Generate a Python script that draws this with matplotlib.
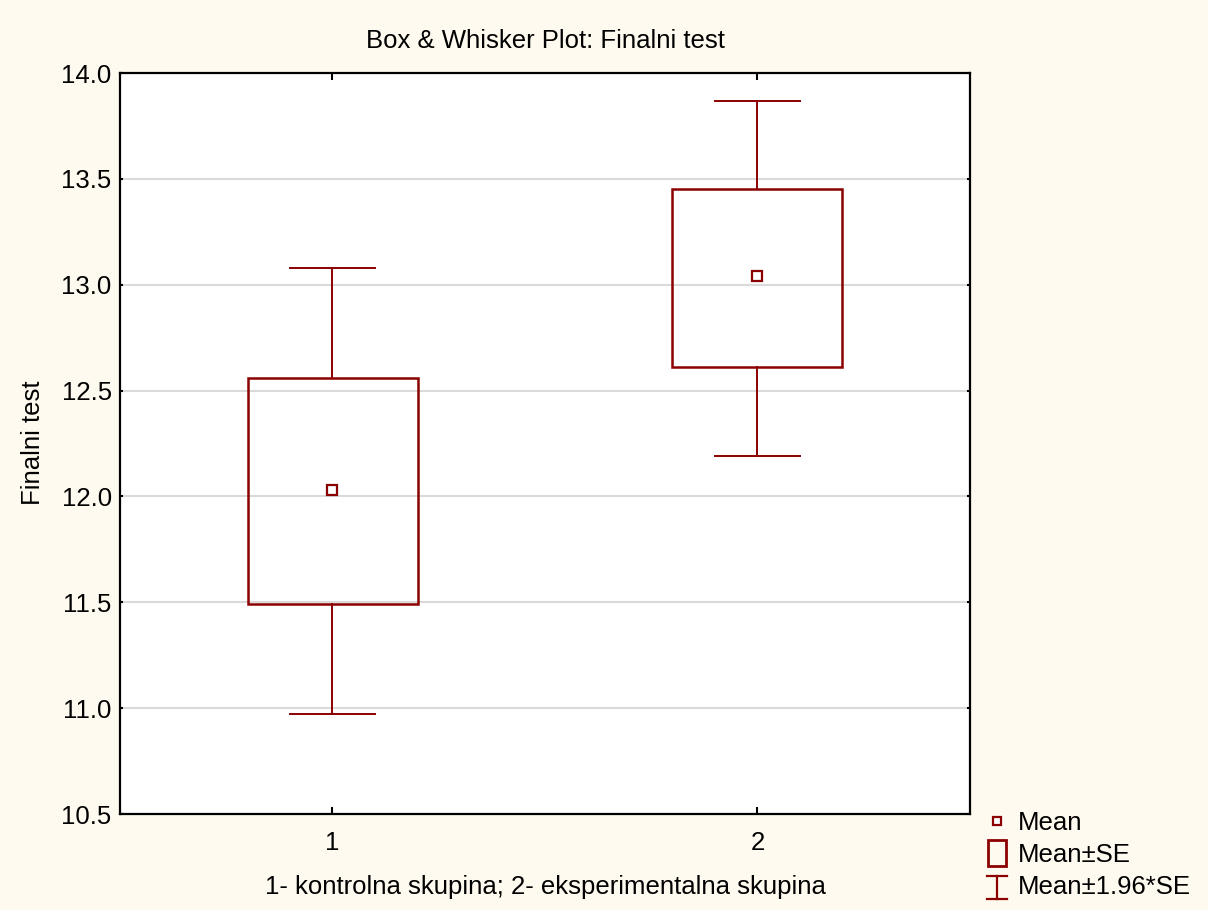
import matplotlib
matplotlib.use("Agg")
import matplotlib.pyplot as plt
from matplotlib.patches import Rectangle
from matplotlib.lines import Line2D

plt.rcParams['font.family'] = ['Liberation Sans', 'DejaVu Sans']

groups = [1, 2]
group_labels = ["1", "2"]
means = [12.03, 13.04]
se_low = [11.49, 12.61]
se_high = [12.56, 13.45]
ci_low = [10.97, 12.19]
ci_high = [13.08, 13.87]

title = "Box & Whisker Plot: Finalni test"
ylabel = "Finalni test"
xlabel = "1- kontrolna skupina; 2- eksperimentalna skupina"
legend_labels = ["Mean", "Mean±SE", "Mean±1.96*SE"]

RED = "#8B0000"
BG = "#FFFAEF"
FS = 18.5

fig = plt.figure(figsize=(12.08, 9.10), dpi=100, facecolor=BG)
ax = fig.add_axes([120/1208, 1-814/910, 850/1208, 741/910])
ax.set_facecolor("white")

box_w = 0.4
cap_w = 0.2
for x, m, sl, sh, cl, ch in zip(groups, means, se_low, se_high, ci_low, ci_high):
    ax.add_patch(Rectangle((x - box_w/2, sl), box_w, sh - sl, fill=False,
                           edgecolor=RED, linewidth=1.8, zorder=3))
    ax.plot([x, x], [sh, ch], color=RED, lw=1.4, zorder=3)
    ax.plot([x, x], [cl, sl], color=RED, lw=1.4, zorder=3)
    ax.plot([x - cap_w/2, x + cap_w/2], [ch, ch], color=RED, lw=1.4, zorder=3)
    ax.plot([x - cap_w/2, x + cap_w/2], [cl, cl], color=RED, lw=1.4, zorder=3)
    ax.plot([x], [m], marker='s', markersize=6.5, markerfacecolor='white',
            markeredgecolor=RED, markeredgewidth=1.6, zorder=4, linestyle='none')

ax.set_xlim(0.5, 2.5)
ax.set_ylim(10.5, 14.0)
ax.set_xticks(groups)
ax.set_xticklabels(group_labels)
ax.set_yticks([10.5, 11.0, 11.5, 12.0, 12.5, 13.0, 13.5, 14.0])
ax.set_yticklabels(["10.5", "11.0", "11.5", "12.0", "12.5", "13.0", "13.5", "14.0"])
ax.yaxis.grid(True, color="#DADADA", linewidth=1.5, zorder=0)
ax.set_axisbelow(True)
ax.tick_params(axis='x', direction='in', top=True, length=5, width=1.5,
               labelsize=FS, pad=12)
ax.tick_params(axis='y', direction='out', left=True, length=2.5, width=1.5,
               labelsize=FS, pad=6)
ax.tick_params(axis='y', which='both', right=True, direction='in')
for s in ax.spines.values():
    s.set_linewidth(1.6)
    s.set_color("black")

fig.text(545/1208, 1-41/910, title, ha='center', va='center', fontsize=FS)
fig.text(33/1208, 1-443/910, ylabel, ha='center', va='center', rotation=90, fontsize=FS)
fig.text(545/1208, 1-887/910, xlabel, ha='center', va='center', fontsize=FS)

# legend drawn in figure pixel space
def fx(px):
    return px/1208
def fy(py):
    return 1 - py/910

fig.add_artist(Line2D([fx(997)], [fy(821)], marker='s', markersize=5.5,
                      markerfacecolor='white', markeredgecolor=RED,
                      markeredgewidth=1.6, linestyle='none'))
fig.add_artist(Rectangle((fx(988), fy(866)), fx(18), 26/910, fill=False,
                         edgecolor=RED, linewidth=2.0, transform=fig.transFigure))
fig.add_artist(Line2D([fx(987), fx(1007)], [fy(876), fy(876)], color=RED, lw=1.6))
fig.add_artist(Line2D([fx(987), fx(1007)], [fy(899), fy(899)], color=RED, lw=1.6))
fig.add_artist(Line2D([fx(997), fx(997)], [fy(876), fy(899)], color=RED, lw=1.6))
for lab, py in zip(legend_labels, [823, 855, 887]):
    fig.text(fx(1018), fy(py), lab, ha='left', va='center', fontsize=FS)

fig.savefig("out.png", dpi=100, facecolor=BG)
